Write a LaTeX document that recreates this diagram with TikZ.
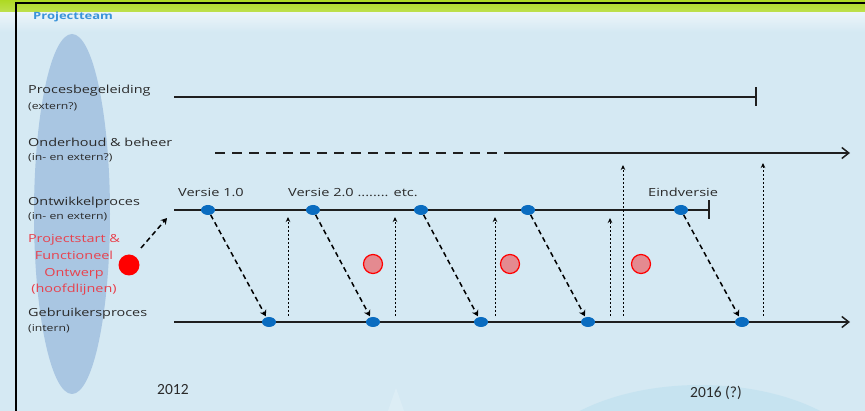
\documentclass[tikz,border=0pt]{standalone}
\usepackage{fontspec}
\setmainfont[FakeStretch=1.3]{Open Sans}
\newfontfamily\calib{Carlito}
\usetikzlibrary{arrows.meta,shapes.geometric}
\definecolor{bgblue}{HTML}{D5E9F3}
\definecolor{arcblue}{HTML}{C3E2F0}
\definecolor{lime}{HTML}{AED923}
\definecolor{ellblue}{HTML}{A9C6E2}
\definecolor{dotblue}{HTML}{0A6CC0}
\definecolor{txtgrey}{HTML}{2A2A2A}
\definecolor{redtxt}{HTML}{E8414D}
\definecolor{pinkfill}{HTML}{E48A90}
\definecolor{teamblue}{HTML}{3A93D9}
\tikzset{
  lbl/.style={anchor=base west,inner sep=0pt,text=txtgrey,font=\fontsize{11.1}{13}\selectfont},
  sublbl/.style={anchor=base west,inner sep=0pt,text=txtgrey,font=\fontsize{9.4}{11}\selectfont},
  redlbl/.style={anchor=base,inner sep=0pt,text=redtxt,font=\fontsize{11.1}{13}\selectfont},
  verlbl/.style={anchor=base west,inner sep=0pt,text=txtgrey,font=\fontsize{11.2}{13}\selectfont},
  yearlbl/.style={anchor=base west,inner sep=0pt,text=txtgrey,font=\calib\fontsize{15.5}{17}\selectfont},
  bdot/.style={ellipse,minimum width=14pt,minimum height=10pt,inner sep=0pt,fill=dotblue},
  pdot/.style={circle,minimum size=19pt,inner sep=0pt,fill=pinkfill,draw=red,line width=1.2pt},
  axis/.style={line width=1.7pt,draw=black!88},
  endbar/.style={-{Bar[width=19pt,line width=1.7pt]}},
  endarrow/.style={-{Straight Barb[length=7pt,width=11pt,line width=1.5pt]}},
  dasharr/.style={line width=1.5pt,dash pattern=on 5pt off 3.5pt,-{Stealth[length=6pt,width=7pt]}},
  dotarr/.style={line width=0.9pt,dash pattern=on 2pt off 2pt,-{Stealth[length=5pt,width=4.5pt]}}
}
\begin{document}
\begin{tikzpicture}[x=1pt,y=-1pt]
\useasboundingbox (0,0) rectangle (865,411);
% background
\fill[bgblue] (0,0) rectangle (865,411);
\shade[top color=white!55!bgblue,bottom color=bgblue] (0,12) rectangle (865,32);
\shade[top color=lime,bottom color=lime!80!white] (0,0) rectangle (865,12);
\fill[arcblue,opacity=0.8] (700,480) ellipse (175 and 95);
\fill[white!30!bgblue,opacity=0.6] (388,411) -- (396,388) -- (404,411) -- cycle;
\draw[line width=1.2pt,black] (16,411) -- (16,3) -- (865,3);
% project team ellipse
\fill[ellblue] (72,214) ellipse (38 and 180);
\node[anchor=base west,inner sep=0pt,text=teamblue,font=\fontsize{10}{12}\selectfont\bfseries] (team) at (33,20) {Projectteam};
% row labels
\node[lbl] (pb) at (28,94) {Procesbegeleiding};
\node[sublbl] (pbs) at (28,110) {(extern?)};
\node[lbl] (ob) at (28,147) {Onderhoud \& beheer};
\node[sublbl] (obs) at (28,161) {(in- en extern?)};
\node[lbl] (op) at (28,205.5) {Ontwikkelproces};
\node[sublbl] (ops) at (28,219.5) {(in- en extern)};
\node[redlbl] (r1) at (74,243) {Projectstart \&};
\node[redlbl] (r2) at (74,260) {Functioneel};
\node[redlbl] (r3) at (74,276.5) {Ontwerp};
\node[redlbl] (r4) at (74,293) {(hoofdlijnen)};
\node[lbl] (gp) at (28,317) {Gebruikersproces};
\node[sublbl] (gps) at (28,331.5) {(intern)};
% lines
\coordinate (pbA) at (174,97); \coordinate (pbB) at (757,97);
\draw[axis,endbar] (pbA) -- (pbB);
\coordinate (obA) at (215,153); \coordinate (obM) at (512,153); \coordinate (obB) at (850,153);
\draw[axis,dash pattern=on 10pt off 7pt] (obA) -- (obM);
\draw[axis,endarrow] (obM) -- (obB);
\coordinate (opA) at (174,210); \coordinate (opB) at (710,210);
\draw[axis,endbar] (opA) -- (opB);
\coordinate (gpA) at (174,322); \coordinate (gpB) at (850,322);
\draw[axis,endarrow] (gpA) -- (gpB);
% version labels
\node[verlbl] (v1) at (178,197) {Versie 1.0};
\node[verlbl] (v2) at (288,197) {Versie 2.0 ........ etc.};
\node[verlbl] (v3) at (648,197) {Eindversie};
% dotted upward arrows
\foreach \n/\x/\yt in {a/288/217,b/395/217,c/495/217,d/610/218,e/623/165,f/763/163}{
  \coordinate (u\n0) at (\x,316);
  \coordinate (u\n1) at (\x,\yt);
  \draw[dotarr] (u\n0) -- (u\n1);
}
% dots
\foreach \i/\x in {1/208,2/313,3/421,4/528,5/681}{ \node[bdot] (t\i) at (\x,210) {}; }
\foreach \i/\x in {1/269,2/373,3/481,4/588,5/742}{ \node[bdot] (b\i) at (\x,322) {}; }
\foreach \i in {1,...,5}{ \draw[dasharr,shorten >=1pt] (t\i) -- (b\i); }
% project start
\node[circle,fill=red,minimum size=21pt,inner sep=0pt] (ps) at (129,265) {};
\coordinate (psst) at (141,248);
\coordinate (psend) at (167,218);
\draw[dasharr] (psst) -- (psend);
% pink circles
\node[pdot] (p1) at (373,264) {};
\node[pdot] (p2) at (510,264) {};
\node[pdot] (p3) at (641,264) {};
% years
\node[yearlbl] (y1) at (157,395) {2012};
\node[yearlbl] (y2) at (690,398) {2016 (?)};
\end{tikzpicture}
\end{document}
